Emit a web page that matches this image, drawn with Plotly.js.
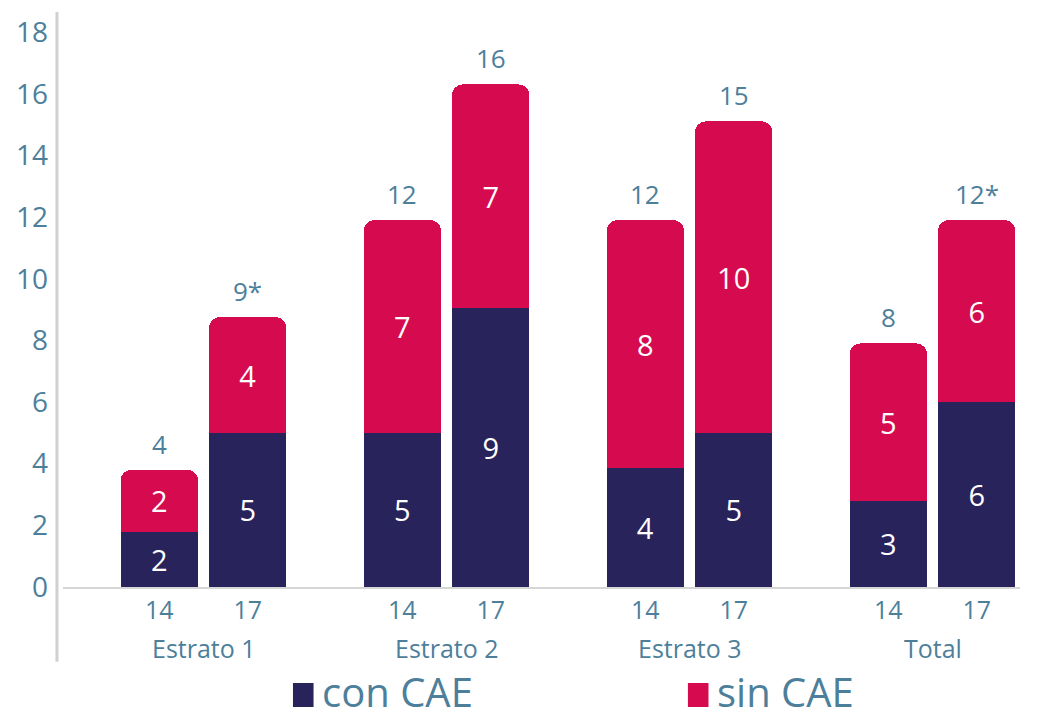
<!DOCTYPE html>
<html>
<head>
<meta charset="utf-8">
<script src="https://cdn.plot.ly/plotly-3.0.1.min.js"></script>
<style>
  html, body { margin: 0; padding: 0; background: #ffffff; }
  #chart { width: 1040px; height: 719px; }
</style>
</head>
<body>
<div id="chart"></div>
<script>
// Data
const groups = ['Estrato 1', 'Estrato 2', 'Estrato 3', 'Total'];
const years = ['14', '17'];
const conCAE = [1.8, 5.0, 5.0, 9.05, 3.85, 5.0, 2.8, 6.0];
const sinCAE = [2.0, 3.75, 6.9, 7.25, 8.05, 10.1, 5.1, 5.9];
const conLabels = ['2', '5', '5', '9', '4', '5', '3', '6'];
const sinLabels = ['2', '4', '7', '7', '8', '10', '5', '6'];
const totalLabels = ['4', '9*', '12', '16', '12', '15', '8', '12*'];
const yTicks = [0, 2, 4, 6, 8, 10, 12, 14, 16, 18];

const NAVY = '#29235c';
const CRIMSON = '#d60b4f';
const TEXT = '#4d7f9b';
const FONT = '"Open Sans", "Noto Sans", sans-serif';

// x positions: two bars per group, with a wider gap between groups
const GROUP_STEP = 2.75;
let xs = [], tickText = [];
groups.forEach((g, gi) => {
  years.forEach((yr, yi) => {
    xs.push(gi * GROUP_STEP + yi);
    tickText.push(yr);
  });
});

function barTrace(name, values, labels, color) {
  return {
    type: 'bar',
    name: name,
    x: xs,
    y: values,
    text: labels,
    texttemplate: '%{text}',
    textposition: 'inside',
    insidetextanchor: 'middle',
    textangle: 0,
    textfont: {family: FONT, size: 29, color: '#ffffff'},
    marker: {color: color},
    width: 0.877,
    hoverinfo: 'skip'
  };
}

// totals above each stack
let annotations = xs.map((x, i) => ({
  x: x,
  y: conCAE[i] + sinCAE[i],
  text: totalLabels[i],
  showarrow: false,
  yanchor: 'bottom',
  yshift: 6,
  font: {family: FONT, size: 26, color: TEXT}
}));

// group names under the year ticks
groups.forEach((g, gi) => {
  annotations.push({
    x: gi * GROUP_STEP + 0.5,
    y: -0.106,
    yref: 'paper',
    text: g,
    showarrow: false,
    yanchor: 'middle',
    font: {family: FONT, size: 25, color: TEXT}
  });
});

// custom legend at the bottom
const legendItems = [
  {name: 'con CAE', color: NAVY, x: 0.2403},
  {name: 'sin CAE', color: CRIMSON, x: 0.6530}
];
let shapes = [
  // long vertical rule on the left
  {type: 'line', xref: 'paper', yref: 'paper', x0: -0.0063, x1: -0.0063, y0: -0.13, y1: 1,
   line: {color: '#d0d0d0', width: 3}}
];
legendItems.forEach(item => {
  shapes.push({
    type: 'rect', xref: 'paper', yref: 'paper',
    x0: item.x, x1: item.x + 0.0215, y0: -0.167, y1: -0.2087,
    fillcolor: item.color, line: {width: 0}
  });
  annotations.push({
    x: item.x + 0.0285,
    y: -0.1817,
    xref: 'paper',
    yref: 'paper',
    xanchor: 'left',
    yanchor: 'middle',
    text: item.name,
    showarrow: false,
    font: {family: FONT, size: 40, color: TEXT}
  });
});

let layout = {
  width: 1040,
  height: 719,
  margin: {l: 63, r: 20, t: 12, b: 132},
  paper_bgcolor: '#ffffff',
  plot_bgcolor: '#ffffff',
  barmode: 'stack',
  barcornerradius: 11,
  showlegend: false,
  xaxis: {
    range: [-1.09, 9.74],
    tickvals: xs,
    ticktext: tickText,
    ticks: '',
    showgrid: false,
    zeroline: false,
    showline: true,
    linecolor: '#d6d6d6',
    linewidth: 2,
    ticklabelstandoff: 0,
    tickfont: {family: FONT, size: 25, color: TEXT}
  },
  yaxis: {
    range: [0, 18.65],
    tickvals: yTicks,
    ticks: '',
    showgrid: false,
    zeroline: false,
    showline: false,
    ticklabelstandoff: 14,
    tickfont: {family: FONT, size: 28, color: TEXT}
  },
  annotations: annotations,
  shapes: shapes
};

Plotly.newPlot('chart', [
  barTrace('con CAE', conCAE, conLabels, NAVY),
  barTrace('sin CAE', sinCAE, sinLabels, CRIMSON)
], layout, {staticPlot: true});
</script>
</body>
</html>
